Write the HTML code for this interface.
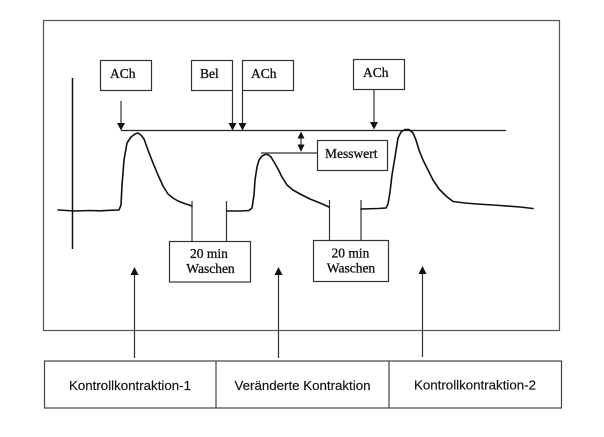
<!DOCTYPE html>
<html><head><meta charset="utf-8"><style>
html,body{margin:0;padding:0;background:#fff;}
svg{display:block;}
.s{font-family:"Liberation Serif",serif;font-size:13.5px;fill:#111;stroke:#111;stroke-width:0.3;}
.a{font-family:"Liberation Sans",sans-serif;font-size:13.3px;fill:#111;stroke:#111;stroke-width:0.15;}
</style></head><body>
<svg width="604" height="437" viewBox="0 0 604 437" xmlns="http://www.w3.org/2000/svg">
<rect x="0" y="0" width="604" height="437" fill="#fff"/>
<g fill="none" stroke="#333" stroke-width="1.2">
<rect x="43.5" y="20.5" width="516" height="310" stroke="#555"/>
<line x1="72.5" y1="78" x2="72.5" y2="249" stroke="#111" stroke-width="1.5"/>
<rect x="100.5" y="60.5" width="51" height="30"/>
<rect x="191.5" y="60.5" width="41" height="30"/>
<rect x="242.5" y="60.5" width="51" height="30"/>
<rect x="353.5" y="59.5" width="51" height="30"/>
<line x1="121" y1="101" x2="121" y2="124"/>
<line x1="232.5" y1="90" x2="232.5" y2="124"/>
<line x1="242.5" y1="90" x2="242.5" y2="124"/>
<line x1="374" y1="89.5" x2="374" y2="123"/>
<line x1="121" y1="130.5" x2="506" y2="130.5" stroke="#222"/>
<line x1="301" y1="136" x2="301" y2="147"/>
<line x1="261" y1="153" x2="317.5" y2="153"/>
<rect x="317.5" y="140.5" width="70" height="30"/>
<line x1="192" y1="201" x2="192" y2="241.5"/>
<line x1="226.5" y1="201" x2="226.5" y2="241.5"/>
<line x1="329.5" y1="200" x2="329.5" y2="240.5"/>
<line x1="361" y1="200" x2="361" y2="240.5"/>
<rect x="169.5" y="241.5" width="81" height="40.5"/>
<rect x="313.5" y="240.5" width="75" height="41"/>
<line x1="134.5" y1="358" x2="134.5" y2="274"/>
<line x1="278.5" y1="358" x2="278.5" y2="274"/>
<line x1="422.5" y1="357" x2="422.5" y2="273"/>
<rect x="44.5" y="361" width="517" height="47" stroke="#444"/>
<line x1="216" y1="361" x2="216" y2="408" stroke="#444"/>
<line x1="389" y1="361" x2="389" y2="408" stroke="#444"/>
</g>
<g fill="#111">
<polygon points="117,123 125,123 121,130.5"/>
<polygon points="228.5,123 236.5,123 232.5,130.5"/>
<polygon points="238.5,123 246.5,123 242.5,130.5"/>
<polygon points="370,122 378,122 374,129.5"/>
<polygon points="297.5,138.5 304.5,138.5 301,131.5"/>
<polygon points="297.5,144.5 304.5,144.5 301,152"/>
<polygon points="130.5,275 138.5,275 134.5,267"/>
<polygon points="274.5,275 282.5,275 278.5,267"/>
<polygon points="418.5,274 426.5,274 422.5,266"/>
</g>
<g fill="none" stroke="#111" stroke-width="1.6" stroke-linejoin="round" stroke-linecap="round">
<polyline points="58,210 75,211 90,210.5 100,210.8 110,210.3 119,210 121,205 122,185 124,160 127,143 131,137 135,134 138,133 141,135 144,139 148,150 153,163 158,175 163,186 168,194 173,198 178,201 183,203 192,206"/>
<polyline points="226.5,211 240,211 249,210.5 252,208 254,195 255,180 257,167 259,160 262,156 265,154.5 268,154.5 271,157 274,162 278,169 282,177 287,185 293,190 300,194 310,199 320,203 329,207"/>
<polyline points="361,209 378,208.5 386,208 388,204 390,192 392,175 395,157 398,138 401,132 405,129.5 409,129.5 413,133 416,140 419,150 423,160 427,168 433,180 439,189 446,196 453,201.5 465,203 477,204 500,205.5 520,207 533,208.5"/>
</g>
<text class="s" x="110" y="78">ACh</text>
<text class="s" x="200" y="78">Bel</text>
<text class="s" x="251" y="78">ACh</text>
<text class="s" x="363" y="77">ACh</text>
<text class="s" x="325" y="158">Messwert</text>
<text class="s" x="209" y="258" text-anchor="middle">20 min</text>
<text class="s" x="210.5" y="273" text-anchor="middle">Waschen</text>
<text class="s" x="350.5" y="257.5" text-anchor="middle">20 min</text>
<text class="s" x="351" y="272.5" text-anchor="middle">Waschen</text>
<text class="a" x="130" y="390" text-anchor="middle">Kontrollkontraktion-1</text>
<text class="a" x="302.5" y="390" text-anchor="middle">Veränderte Kontraktion</text>
<text class="a" x="475" y="389.5" text-anchor="middle">Kontrollkontraktion-2</text>
</svg>
</body></html>
